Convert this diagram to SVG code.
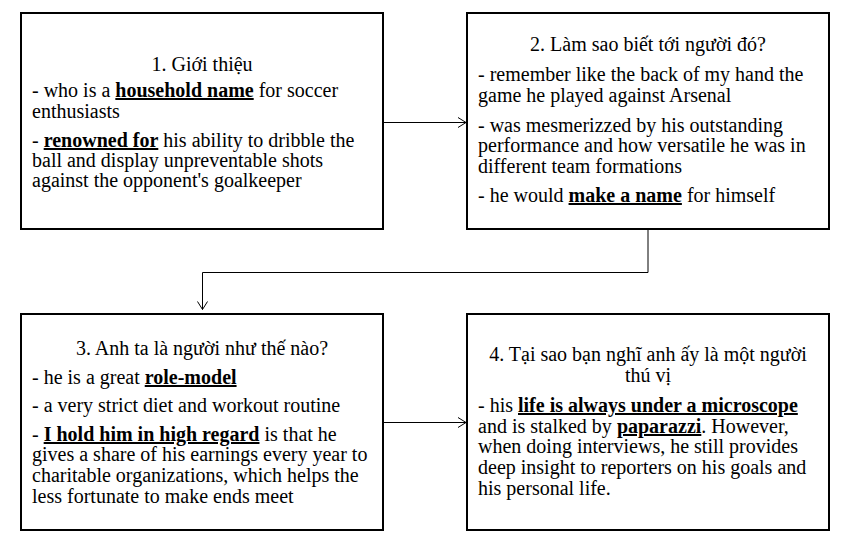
<svg xmlns="http://www.w3.org/2000/svg" width="846" height="550" viewBox="0 0 846 550">
<style>
.box{fill:#fff;stroke:#000;stroke-width:2}
text{font-family:"Liberation Serif","Times New Roman",Tinos,"DejaVu Serif",serif;font-size:20px;fill:#000}
.t{text-anchor:middle}
.b{font-weight:bold;text-decoration:underline}
.con{fill:none;stroke:#000;stroke-width:1}
</style>
<defs>
<marker id="ah" markerWidth="10" markerHeight="12" refX="9" refY="6" orient="auto" markerUnits="userSpaceOnUse">
<path d="M1,1 L9,6 L1,11" fill="none" stroke="#000" stroke-width="1"/>
</marker>
</defs>
<rect width="846" height="550" fill="#fff"/>
<g id="connectors">
<line class="con" x1="383" y1="122.5" x2="466" y2="122.5" marker-end="url(#ah)"/>
<line class="con" x1="383" y1="422.5" x2="466" y2="422.5" marker-end="url(#ah)"/>
<path class="con" d="M648,229 V272.5 H202.5 V309.5" marker-end="url(#ah)"/>
</g>
<g id="node1">
<rect class="box" x="21" y="13" width="362" height="216"/>
<text class="t" x="202" y="71">1. Giới thiệu</text>
<text x="32" y="97">- who is a <tspan class="b">household name</tspan> for soccer</text>
<text x="32" y="118">enthusiasts</text>
<text x="32" y="147">- <tspan class="b">renowned for</tspan> his ability to dribble the</text>
<text x="32" y="167">ball and display unpreventable shots</text>
<text x="32" y="187">against the opponent's goalkeeper</text>
</g>
<g id="node2">
<rect class="box" x="467" y="13" width="362" height="216"/>
<text class="t" x="648" y="51">2. Làm sao biết tới người đó?</text>
<text x="478" y="81">- remember like the back of my hand the</text>
<text x="478" y="102">game he played against Arsenal</text>
<text x="478" y="132">- was mesmerizzed by his outstanding</text>
<text x="478" y="152">performance and how versatile he was in</text>
<text x="478" y="173">different team formations</text>
<text x="478" y="202">- he would <tspan class="b">make a name</tspan> for himself</text>
</g>
<g id="node3">
<rect class="box" x="21" y="314" width="362" height="216"/>
<text class="t" x="202" y="355">3. Anh ta là người như thế nào?</text>
<text x="32" y="384">- he is a great <tspan class="b">role-model</tspan></text>
<text x="32" y="412">- a very strict diet and workout routine</text>
<text x="32" y="441">- <tspan class="b">I hold him in high regard</tspan> is that he</text>
<text x="32" y="461">gives a share of his earnings every year to</text>
<text x="32" y="482">charitable organizations, which helps the</text>
<text x="32" y="503">less fortunate to make ends meet</text>
</g>
<g id="node4">
<rect class="box" x="467" y="314" width="362" height="216"/>
<text class="t" x="648" y="361">4. Tại sao bạn nghĩ anh ấy là một người</text>
<text class="t" x="648" y="382">thú vị</text>
<text x="478" y="412">- his <tspan class="b">life is always under a microscope</tspan></text>
<text x="478" y="433">and is stalked by <tspan class="b">paparazzi</tspan>. However,</text>
<text x="478" y="453">when doing interviews, he still provides</text>
<text x="478" y="474">deep insight to reporters on his goals and</text>
<text x="478" y="495">his personal life.</text>
</g>
</svg>
